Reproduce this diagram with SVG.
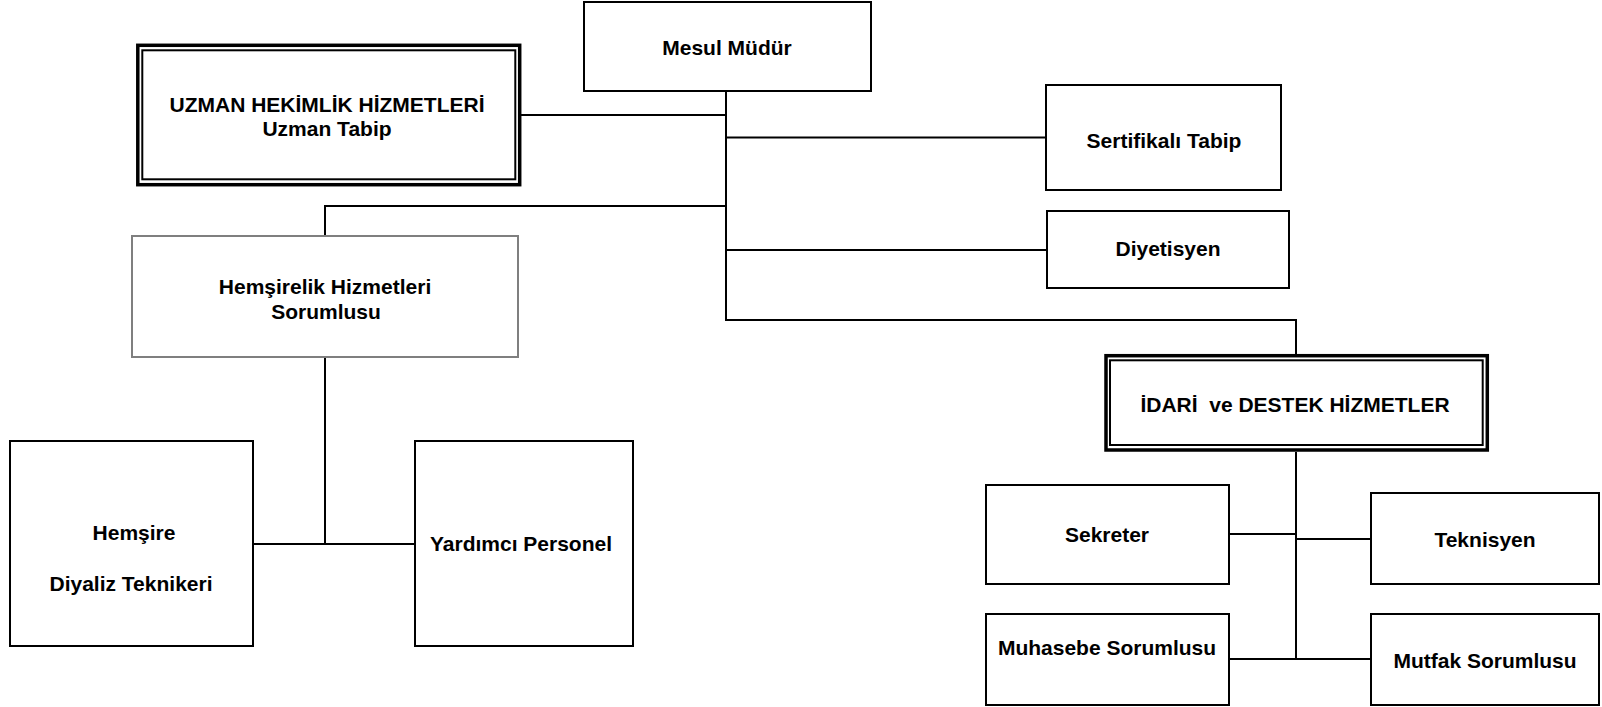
<svg xmlns="http://www.w3.org/2000/svg" width="1602" height="707" viewBox="0 0 1602 707">
<style>
.box{fill:#fff;stroke:#000;stroke-width:2}
.gray{fill:#fff;stroke:#7f7f7f;stroke-width:2}
.outer{fill:#fff;stroke:#000;stroke-width:3.5}
.inner{fill:none;stroke:#000;stroke-width:2}
.lbl{font-family:"Liberation Sans",Arial,sans-serif;font-weight:bold;font-size:21px;text-anchor:middle;fill:#000}
.conn line{stroke:#000;stroke-width:2}
</style>
<rect width="1602" height="707" fill="#fff"/>
<g id="connectors" class="conn">
<line x1="726" y1="92" x2="726" y2="321"/>
<line x1="521" y1="115" x2="726" y2="115"/>
<line x1="726" y1="137.5" x2="1046" y2="137.5"/>
<line x1="726" y1="250" x2="1047" y2="250"/>
<line x1="325" y1="206" x2="727" y2="206"/>
<line x1="325" y1="205" x2="325" y2="236"/>
<line x1="725" y1="320" x2="1297" y2="320"/>
<line x1="1296" y1="319" x2="1296" y2="354"/>
<line x1="325" y1="357" x2="325" y2="544"/>
<line x1="253" y1="544" x2="415" y2="544"/>
<line x1="1296" y1="452" x2="1296" y2="660"/>
<line x1="1229" y1="534" x2="1296" y2="534"/>
<line x1="1296" y1="539" x2="1371" y2="539"/>
<line x1="1229" y1="659" x2="1371" y2="659"/>
</g>
<g id="mesul">
<rect class="box" x="584" y="2" width="287" height="89"/>
<text class="lbl" x="727" y="55">Mesul Müdür</text>
</g>
<g id="uzman">
<rect class="outer" x="137.8" y="45.3" width="381.9" height="139.4"/>
<rect class="inner" x="142.3" y="50.3" width="373" height="129"/>
<text class="lbl" x="327" y="112">UZMAN HEKİMLİK HİZMETLERİ</text>
<text class="lbl" x="327" y="136">Uzman Tabip</text>
</g>
<g id="sertifikali">
<rect class="box" x="1046" y="85" width="235" height="105"/>
<text class="lbl" x="1164" y="148">Sertifikalı Tabip</text>
</g>
<g id="diyetisyen">
<rect class="box" x="1047" y="211" width="242" height="77"/>
<text class="lbl" x="1168" y="256">Diyetisyen</text>
</g>
<g id="hemsirelik">
<rect class="gray" x="132" y="236" width="386" height="121"/>
<text class="lbl" x="325" y="294">Hemşirelik Hizmetleri</text>
<text class="lbl" x="326" y="319">Sorumlusu</text>
</g>
<g id="hemsire">
<rect class="box" x="10" y="441" width="243" height="205"/>
<text class="lbl" x="134" y="540">Hemşire</text>
<text class="lbl" x="131" y="591">Diyaliz Teknikeri</text>
</g>
<g id="yardimci">
<rect class="box" x="415" y="441" width="218" height="205"/>
<text class="lbl" x="521" y="551">Yardımcı Personel</text>
</g>
<g id="idari">
<rect class="outer" x="1106" y="355.7" width="381.3" height="94.3"/>
<rect class="inner" x="1110" y="360.3" width="372.7" height="84.7"/>
<text class="lbl" x="1295" y="412" style="white-space:pre" xml:space="preserve">İDARİ  ve DESTEK HİZMETLER</text>
</g>
<g id="sekreter">
<rect class="box" x="986" y="485" width="243" height="99"/>
<text class="lbl" x="1107" y="542">Sekreter</text>
</g>
<g id="teknisyen">
<rect class="box" x="1371" y="493" width="228" height="91"/>
<text class="lbl" x="1485" y="547">Teknisyen</text>
</g>
<g id="muhasebe">
<rect class="box" x="986" y="614" width="243" height="91"/>
<text class="lbl" x="1107" y="655">Muhasebe Sorumlusu</text>
</g>
<g id="mutfak">
<rect class="box" x="1371" y="614" width="228" height="91"/>
<text class="lbl" x="1485" y="668">Mutfak Sorumlusu</text>
</g>
</svg>
